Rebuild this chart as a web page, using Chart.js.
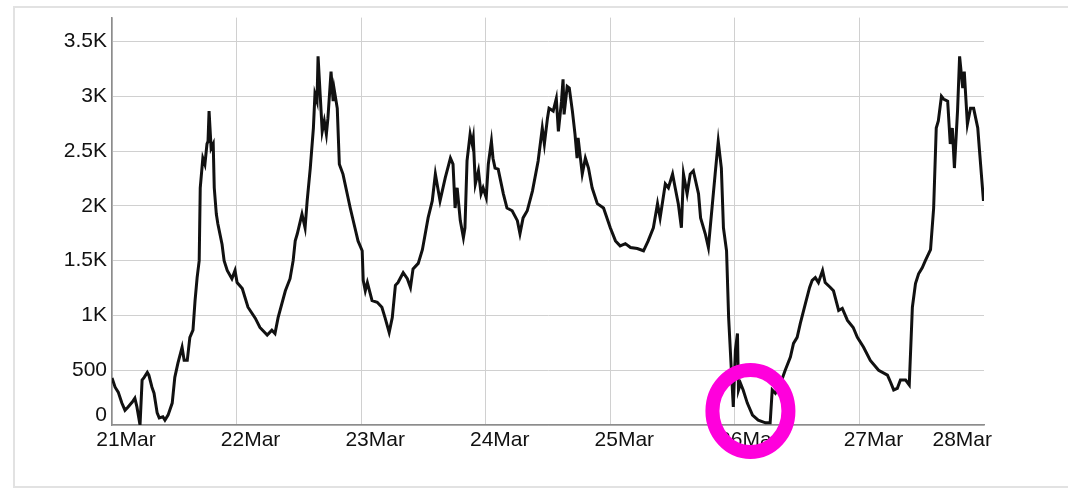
<!DOCTYPE html>
<html>
<head>
<meta charset="utf-8">
<title>21Mar - 28Mar</title>
<script src="https://cdn.jsdelivr.net/npm/chart.js@4.4.1/dist/chart.umd.min.js"></script>
<style>
  html, body { margin: 0; padding: 0; background: #fff; overflow: hidden; }
  #wrap { position: relative; width: 1068px; height: 494px; }
  #frame { position: absolute; left: 13px; top: 6px; width: 1100px; height: 478px; border: 2px solid #e2e2e2; }
  #box { position: absolute; left: 0; top: 0; width: 1068px; height: 494px; }
</style>
</head>
<body>
<div id="wrap">
  <div id="frame"></div>
  <div id="box"><canvas id="chart"></canvas></div>
</div>
<script>
// hours since 21Mar 00:00
const hours = [
  0, 0.6, 1.2, 1.9, 2.5, 3.1, 3.9, 4.4, 4.8, 5.4,
  5.8, 6.2, 6.8, 7.1, 7.7, 8.1, 8.7, 9.1, 9.8, 10.2,
  10.8, 11.6, 12.1, 12.7, 13.5, 13.9, 14.5, 15.0, 15.6, 16.0,
  16.4, 16.8, 17.0, 17.5, 17.9, 18.3, 18.5, 18.7, 19.1, 19.5,
  19.7, 20.1, 20.4, 21.2, 21.6, 22.2, 23.1, 23.7, 24.1, 25.1,
  26.2, 27.6, 28.5, 29.9, 30.8, 31.4, 32.0, 33.4, 34.3, 34.9,
  35.3, 35.7, 36.6, 37.2, 37.6, 38.2, 38.8, 39.1, 39.5, 39.7,
  40.1, 40.5, 40.9, 41.3, 41.6, 42.2, 42.6, 42.8, 43.4, 43.8,
  44.5, 45.9, 46.8, 47.4, 48.2, 48.4, 48.8, 49.2, 50.1, 51.1,
  52.0, 52.6, 53.4, 54.0, 54.6, 55.1, 56.1, 56.9, 57.5, 58.0,
  59.0, 59.8, 60.9, 61.7, 62.3, 63.2, 64.2, 65.2, 65.7, 66.1,
  66.5, 67.1, 67.7, 68.0, 68.4, 69.0, 69.4, 69.6, 70.0, 70.6,
  71.1, 71.5, 72.1, 72.5, 73.1, 73.4, 73.8, 74.4, 75.4, 76.1,
  77.1, 78.1, 78.6, 79.2, 80.0, 81.0, 82.1, 82.9, 83.3, 83.9,
  84.2, 85.0, 85.6, 86.0, 86.6, 86.9, 87.1, 87.7, 88.1, 88.7,
  89.2, 89.6, 89.8, 90.6, 91.2, 91.8, 92.5, 93.5, 94.7, 96.0,
  97.0, 97.9, 98.9, 99.9, 101.2, 102.4, 103.3, 104.3, 105.1, 105.6,
  106.6, 107.2, 108.0, 108.5, 109.1, 109.7, 110.1, 110.8, 111.4, 112.0,
  113.0, 113.4, 114.3, 114.9, 116.2, 116.8, 117.4, 117.8, 118.4, 118.8,
  119.3, 119.7, 120.1, 120.5, 120.7, 121.1, 121.6, 122.4, 123.4, 124.5,
  125.9, 126.8, 127.2, 127.8, 128.8, 129.7, 130.7, 131.3, 132.0, 132.6,
  133.6, 134.4, 134.9, 135.5, 136.1, 136.9, 137.4, 138.4, 139.0, 140.0,
  140.7, 141.7, 142.8, 143.6, 144.8, 146.1, 147.7, 149.4, 150.0, 150.6,
  151.3, 151.9, 152.9, 153.6, 154.2, 154.8, 155.4, 156.1, 156.7, 157.7,
  158.3, 158.8, 159.2, 159.8, 160.2, 161.0, 161.5, 161.9, 162.3, 162.9,
  163.3, 163.9, 164.2, 164.8, 165.4, 166.0, 166.8, 167.1, 167.9
];

const visits = [
  430, 345, 300, 200, 135, 165, 210, 245, 165, 0,
  410, 435, 480, 455, 345, 290, 110, 65, 75, 45,
  90, 200, 435, 565, 710, 590, 590, 800, 865, 1135,
  1345, 1500, 2165, 2435, 2380, 2565, 2590, 2865, 2525, 2565,
  2165, 1925, 1835, 1650, 1500, 1410, 1335, 1410, 1300, 1245,
  1075, 975, 890, 820, 865, 835, 980, 1225, 1335, 1500,
  1680, 1745, 1925, 1800, 2045, 2345, 2710, 3020, 2955, 3365,
  3020, 2680, 2775, 2655, 2800, 3225, 2955, 3065, 2890, 2380,
  2290, 1980, 1800, 1680, 1590, 1320, 1225, 1300, 1135, 1120,
  1075, 980, 845, 980, 1275, 1300, 1390, 1335, 1255, 1425,
  1475, 1600, 1890, 2045, 2290, 2045, 2255, 2435, 2380, 1980,
  2165, 1865, 1710, 1800, 2410, 2655, 2565, 2620, 2200, 2320,
  2110, 2165, 2075, 2380, 2590, 2435, 2345, 2335, 2110, 1980,
  1955, 1865, 1745, 1890, 1955, 2135, 2410, 2710, 2565, 2800,
  2890, 2865, 2980, 2680, 2955, 3155, 2835, 3090, 3075, 2865,
  2655, 2435, 2620, 2290, 2435, 2345, 2165, 2020, 1980, 1800,
  1680, 1635, 1655, 1620, 1610, 1590, 1680, 1800, 2020, 1890,
  2200, 2165, 2290, 2165, 2020, 1800, 2290, 2110, 2290, 2320,
  2110, 1890, 1745, 1620, 2290, 2590, 2345, 1800, 1590, 980,
  525, 165, 680, 835, 320, 380, 320, 200, 90, 45,
  20, 20, 320, 290, 380, 500, 620, 745, 800, 925,
  1110, 1255, 1320, 1345, 1300, 1410, 1300, 1255, 1225, 1045,
  1065, 955, 890, 800, 710, 590, 500, 455, 390, 320,
  335, 410, 410, 365, 1075, 1290, 1380, 1435, 1500, 1600,
  1980, 2710, 2775, 3000, 2975, 2955, 2565, 2710, 2345, 2865,
  3365, 3075, 3225, 2745, 2890, 2890, 2710, 2525, 2045
];

const dayLabels = ['21Mar', '22Mar', '23Mar', '24Mar', '25Mar', '26Mar', '27Mar', '28Mar'];
const yTickLabels = ['0', '500', '1K', '1.5K', '2K', '2.5K', '3K', '3.5K'];

// the pink ring drawn over the dip on 26Mar (data coordinates)
const ringAt = { hour: 123, value: 127 };

const font = { family: '"Liberation Sans", Arial, sans-serif', size: 21 };

// nudge the edge labels the way the original axis does
const edgeLabels = {
  id: 'edgeLabels',
  beforeDraw(chart) {
    const xs = chart.scales.x, ys = chart.scales.y;
    const xi = xs.getLabelItems();
    const last = xi[xi.length - 1];
    if (last && last.options && last.options.translation) {
      last.options.textAlign = 'right';
      last.options.translation[0] = xs.right + 8;
    }
    const yi = ys.getLabelItems();
    if (yi[0] && yi[0].options && yi[0].options.translation) {
      yi[0].options.translation[1] -= 10;
    }
  }
};

const ring = {
  id: 'ring',
  afterDraw(chart) {
    const ctx = chart.ctx;
    const cx = chart.scales.x.getPixelForValue(ringAt.hour);
    const cy = chart.scales.y.getPixelForValue(ringAt.value);
    ctx.save();
    ctx.strokeStyle = '#ff00dc';
    ctx.lineWidth = 14;
    ctx.beginPath();
    ctx.ellipse(cx, cy, 38, 41, 0, 0, Math.PI * 2);
    ctx.stroke();
    ctx.restore();
  }
};

new Chart(document.getElementById('chart'), {
  type: 'line',
  data: {
    datasets: [{
      data: hours.map((h, i) => ({ x: h, y: visits[i] })),
      borderColor: '#111',
      borderWidth: 3,
      pointRadius: 0,
      tension: 0,
      fill: false
    }]
  },
  options: {
    responsive: true,
    maintainAspectRatio: false,
    animation: false,
    layout: { padding: { top: 16, right: 84, left: 0, bottom: 0 } },
    plugins: { legend: { display: false }, tooltip: { enabled: false } },
    scales: {
      x: {
        type: 'linear',
        min: 0,
        max: 168,
        afterFit: s => { s.height = 69; },
        afterBuildTicks: s => { s.ticks = dayLabels.map((_, i) => ({ value: i * 24 })); },
        ticks: {
          autoSkip: false,
          maxRotation: 0,
          labelOffset: 14,
          padding: 3,
          color: '#111',
          font: font,
          callback: (v, i) => dayLabels[i]
        },
        grid: {
          drawTicks: false,
          lineWidth: 1,
          color: c => (c.tick && c.tick.value === 168) ? 'rgba(0,0,0,0)' : '#d0d0d0'
        },
        border: { color: '#8c8c8c', width: 1.5 }
      },
      y: {
        type: 'linear',
        min: 0,
        max: 3718,
        afterFit: s => { s.width = 112; },
        afterBuildTicks: s => { s.ticks = yTickLabels.map((_, i) => ({ value: i * 500 })); },
        ticks: {
          autoSkip: false,
          padding: 5,
          color: '#111',
          font: font,
          callback: (v, i) => yTickLabels[i]
        },
        grid: { drawTicks: false, lineWidth: 1, color: '#d0d0d0' },
        border: { color: '#8c8c8c', width: 1.5 }
      }
    }
  },
  plugins: [edgeLabels, ring]
});
</script>
</body>
</html>
